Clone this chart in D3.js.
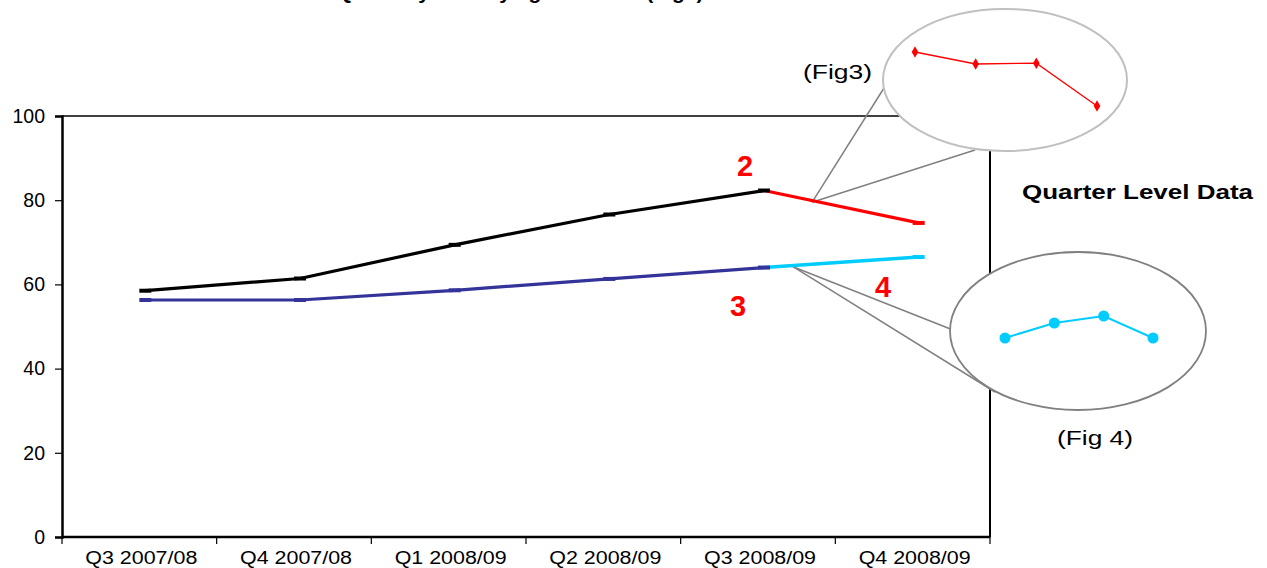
<!DOCTYPE html>
<html>
<head>
<meta charset="utf-8">
<script src="https://cdn.jsdelivr.net/npm/d3@7/dist/d3.min.js"></script>
<style>
  html, body { margin: 0; padding: 0; background: #fff; }
  svg { display: block; }
</style>
</head>
<body>
<svg id="chart" width="1267" height="568"></svg>
<script>
// ---------- data ----------
const categories = ["Q3 2007/08", "Q4 2007/08", "Q1 2008/09", "Q2 2008/09", "Q3 2008/09", "Q4 2008/09"];
const yTicks = [0, 20, 40, 60, 80, 100];

// main series (value per quarter, null = no value)
const series1Values = [58.5, 61.4, 69.4, 76.6, 82.3, null];   // black
const series2Values = [null, null, null, null, 82.3, 74.6];   // red (Fig3)
const series3Values = [56.3, 56.3, 58.6, 61.3, 64.0, null];   // navy
const series4Values = [null, null, null, null, 64.0, 66.5];   // cyan (Fig4)

// inset (zoomed) data
const fig3Values = [81, 78, 78.2, 67.5];
const fig4Values = [63, 64.5, 65.2, 63];

const titleText = "Quarterly Activity against Plan (Fig1)";

// ---------- setup ----------
const svg = d3.select("#chart");
const plotLeft = 62, plotRight = 990, plotTop = 116, plotBottom = 537;

const x = d3.scaleBand().domain(categories).range([plotLeft, plotRight]).padding(0);
const y = d3.scaleLinear().domain([0, 100]).range([plotBottom, plotTop]);
const px = c => x(c) + x.bandwidth() / 2 + 6;

// title (cut off at top in the reference)
svg.append("text")
  .attr("x", 520).attr("y", -1)
  .attr("text-anchor", "middle")
  .attr("font-family", "Liberation Sans, Arial, sans-serif")
  .attr("font-weight", "bold")
  .attr("font-size", 21)
  .text(titleText);

// plot border (top/right)
svg.append("line").attr("x1", plotLeft).attr("x2", plotRight).attr("y1", plotTop).attr("y2", plotTop)
  .attr("stroke", "#000").attr("stroke-width", 1.5);
svg.append("line").attr("x1", plotRight).attr("x2", plotRight).attr("y1", plotTop).attr("y2", plotBottom)
  .attr("stroke", "#000").attr("stroke-width", 2);

// y axis
const yAxis = svg.append("g").attr("transform", `translate(${plotLeft},0)`)
  .call(d3.axisLeft(y).tickValues(yTicks).tickSize(7).tickPadding(10).tickFormat(d3.format("d")));
yAxis.select(".domain").attr("stroke", "#000").attr("stroke-width", 2.5);
yAxis.selectAll(".tick line").attr("stroke", "#000").attr("stroke-width", 1.2);
yAxis.selectAll("text").attr("font-family", "Liberation Sans, Arial, sans-serif")
  .attr("font-size", 19.5).attr("fill", "#000");

// x axis
const xAxis = svg.append("g").attr("transform", `translate(0,${plotBottom})`);
xAxis.append("line").attr("x1", plotLeft).attr("x2", plotRight).attr("y1", 0).attr("y2", 0)
  .attr("stroke", "#000").attr("stroke-width", 2.5);
const bounds = categories.map(c => x(c)).concat([x.range()[1]]);
xAxis.selectAll("line.tk").data(bounds).join("line").attr("class", "tk")
  .attr("x1", d => d).attr("x2", d => d).attr("y1", 0).attr("y2", 7)
  .attr("stroke", "#000").attr("stroke-width", 1.2);
xAxis.selectAll("text").data(categories).join("text")
  .attr("x", d => x(d) + x.bandwidth() / 2 + 2)
  .attr("y", 27)
  .attr("text-anchor", "middle")
  .attr("font-family", "Liberation Sans, Arial, sans-serif")
  .attr("font-size", 18)
  .attr("textLength", 112).attr("lengthAdjust", "spacingAndGlyphs")
  .text(d => d);

// ---------- callout lines (behind ellipses) ----------
const calloutColor = "#808080";
const anchor3 = [812, y(79.5)];
const anchor4 = [793, y(64.2)];
[[884, 88], [975, 150]].forEach(p => {
  svg.append("line").attr("x1", anchor3[0]).attr("y1", anchor3[1]).attr("x2", p[0]).attr("y2", p[1])
    .attr("stroke", calloutColor).attr("stroke-width", 1.5);
});
[[953, 330], [995, 392]].forEach(p => {
  svg.append("line").attr("x1", anchor4[0]).attr("y1", anchor4[1]).attr("x2", p[0]).attr("y2", p[1])
    .attr("stroke", calloutColor).attr("stroke-width", 1.5);
});

// ---------- lines ----------
function drawSeries(vals, color, width) {
  const pts = categories.map((c, i) => ({ c, v: vals[i] })).filter(d => d.v != null);
  const line = d3.line().x(d => px(d.c)).y(d => y(d.v));
  svg.append("path").datum(pts).attr("d", line)
    .attr("fill", "none").attr("stroke", color).attr("stroke-width", width)
    .attr("stroke-linejoin", "round");
  return pts;
}
const markerSets = [];
markerSets.push([drawSeries(series1Values, "#000000", 3.2), "#000000"]);
markerSets.push([drawSeries(series3Values, "#333399", 3.2), "#333399"]);
markerSets.push([drawSeries(series2Values, "#ff0000", 3.2), "#ff0000"]);
markerSets.push([drawSeries(series4Values, "#00ccff", 3.6), "#00ccff"]);
// dash markers
markerSets.forEach(([pts, color], k) => {
  svg.selectAll(null).data(pts.filter((d, i) => !(k >= 2 && i === 0))).join("line")
    .attr("x1", d => px(d.c) - 6).attr("x2", d => px(d.c) + 6)
    .attr("y1", d => y(d.v)).attr("y2", d => y(d.v))
    .attr("stroke", color).attr("stroke-width", 4);
});

// ---------- ellipses ----------
svg.append("ellipse").attr("cx", 1005).attr("cy", 80).attr("rx", 122).attr("ry", 71)
  .attr("fill", "#fff").attr("stroke", "#c0c0c0").attr("stroke-width", 2);
svg.append("ellipse").attr("cx", 1078).attr("cy", 331).attr("rx", 128).attr("ry", 79)
  .attr("fill", "#fff").attr("stroke", "#808080").attr("stroke-width", 1.8);

// Fig3 inset
const ix3 = d3.scalePoint().domain(d3.range(fig3Values.length)).range([915, 1097]);
const iy3 = d3.scaleLinear().domain([60, 90]).range([136, 16]);
svg.append("path").datum(fig3Values)
  .attr("d", d3.line().x((d, i) => ix3(i)).y(d => iy3(d)))
  .attr("fill", "none").attr("stroke", "#ff0000").attr("stroke-width", 1.3);
svg.selectAll(null).data(fig3Values).join("path")
  .attr("transform", (d, i) => `translate(${ix3(i)},${iy3(d)})`)
  .attr("d", d3.symbol().type(d3.symbolDiamond).size(38))
  .attr("fill", "#ff0000");

// Fig4 inset
const ix4 = d3.scalePoint().domain(d3.range(fig4Values.length)).range([1005, 1153]);
const iy4 = d3.scaleLinear().domain([60, 70]).range([368, 268]);
svg.append("path").datum(fig4Values)
  .attr("d", d3.line().x((d, i) => ix4(i)).y(d => iy4(d)))
  .attr("fill", "none").attr("stroke", "#00ccff").attr("stroke-width", 2);
svg.selectAll(null).data(fig4Values).join("circle")
  .attr("cx", (d, i) => ix4(i)).attr("cy", d => iy4(d)).attr("r", 5.5)
  .attr("fill", "#00ccff");

// ---------- labels ----------
function label(t, xx, yy, opts) {
  const el = svg.append("text").attr("x", xx).attr("y", yy)
    .attr("font-family", "Liberation Sans, Arial, sans-serif")
    .attr("font-size", opts.size).attr("fill", opts.fill || "#000")
    .attr("font-weight", opts.bold ? "bold" : "normal").text(t);
  if (opts.len) el.attr("textLength", opts.len).attr("lengthAdjust", "spacingAndGlyphs");
  return el;
}
label("(Fig3)", 803, 79, { size: 20, len: 69 });
label("(Fig 4)", 1057, 445, { size: 20, len: 76 });
label("Quarter Level Data", 1022, 199, { size: 21, bold: true, len: 231 });
label("2", 737, 176, { size: 29, bold: true, fill: "#ff0000" });
label("3", 730, 316, { size: 29, bold: true, fill: "#ff0000" });
label("4", 875, 297, { size: 29, bold: true, fill: "#ff0000" });
</script>
</body>
</html>
